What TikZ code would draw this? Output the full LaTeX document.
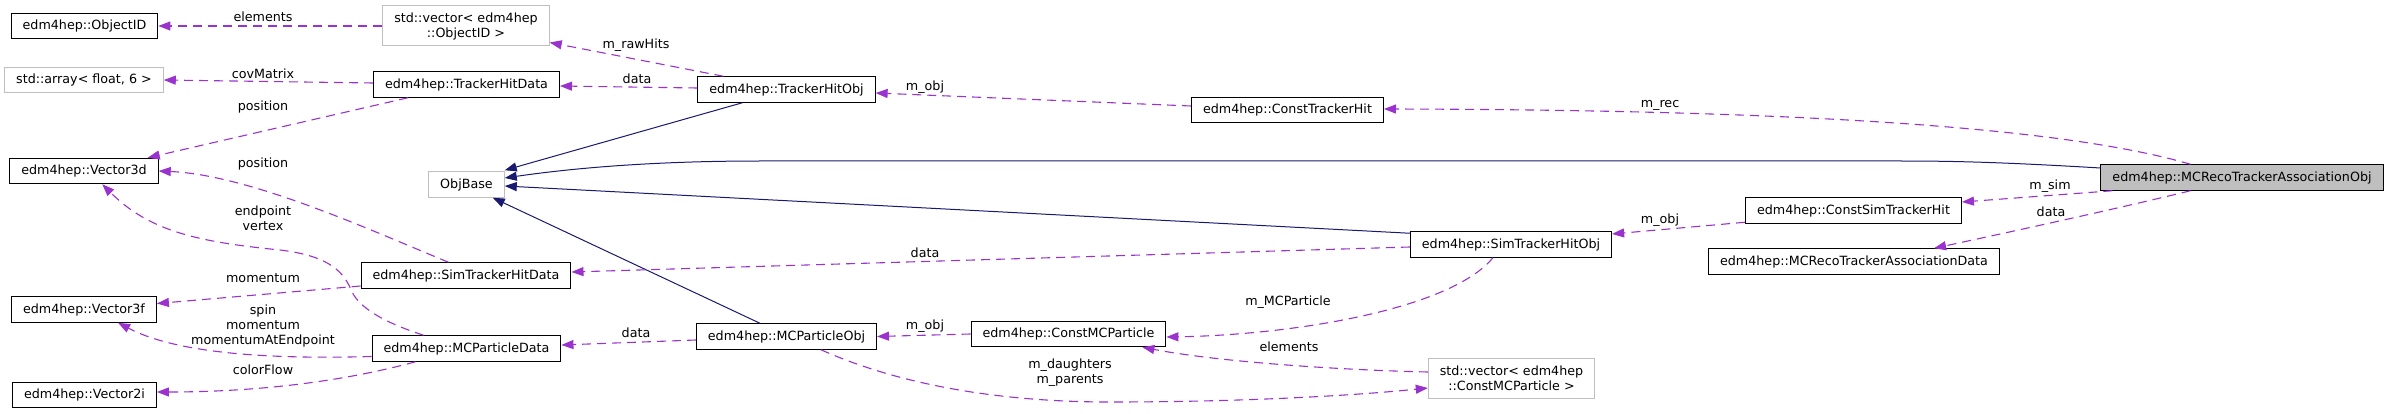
\documentclass[tikz,border=0pt]{standalone}
\usepackage{fontspec}
\setmainfont{DejaVu Sans}
\usepackage{xcolor}
\usepackage{tikz}
\usetikzlibrary{arrows.meta,calc}
\definecolor{dpurple}{HTML}{9A32CD}
\definecolor{dnavy}{HTML}{191970}
\definecolor{dgrey}{HTML}{BFBFBF}
\newcommand{\dgfont}{\fontsize{12.7}{15}\selectfont}
\tikzset{
  >={Triangle[length=12pt,width=9pt]},
  dclass/.style={draw=black, fill=white, line width=1pt, inner xsep=11.5pt,
                 inner ysep=2pt, minimum height=25.5pt, font=\dgfont},
  dext/.style={dclass, draw=dgrey},
  dmain/.style={dclass, fill=dgrey},
  dtwo/.style={align=center, minimum height=40pt},
  dmember/.style={->, dpurple, line width=1.1pt, dash pattern=on 9pt off 6pt},
  dinherit/.style={->, dnavy, line width=1pt},
  dlbl/.style={font=\dgfont, inner sep=0pt, align=center},
}

\begin{document}
\begin{tikzpicture}[x=1pt,y=-1pt]
  \useasboundingbox (0,0) rectangle (2391,414);

  % --- left column ---
  \node[dclass] (objid)    at (84.5,26)  {edm4hep::ObjectID};
  \node[dext]   (floatarr) at (84,80)    {std::array< float, 6 >};
  \node[dclass] (vec3d)    at (84,171)   {edm4hep::Vector3d};
  \node[dclass] (vec3f)    at (84,309.5) {edm4hep::Vector3f};
  \node[dclass] (vec2i)    at (84.5,395) {edm4hep::Vector2i};

  % --- data structs and base ---
  \node[dext, dtwo] (vecoid) at (466,26)    {std::vector< edm4hep\\::ObjectID >};
  \node[dclass] (trkdata)    at (466.5,84.5) {edm4hep::TrackerHitData};
  \node[dext]   (objbase)    at (466.5,184.5) {ObjBase};
  \node[dclass] (simdata)    at (466,275.5)  {edm4hep::SimTrackerHitData};
  \node[dclass] (mcdata)     at (466.5,348.5) {edm4hep::MCParticleData};

  % --- obj classes ---
  \node[dclass] (trkobj)   at (786.5,89.5)  {edm4hep::TrackerHitObj};
  \node[dclass] (mcobj)    at (786.5,336.5) {edm4hep::MCParticleObj};
  \node[dclass] (consttrk) at (1287.5,110)  {edm4hep::ConstTrackerHit};
  \node[dclass] (constmc)  at (1068.5,334)  {edm4hep::ConstMCParticle};
  \node[dclass] (simobj)   at (1511,244.5)  {edm4hep::SimTrackerHitObj};
  \node[dext, dtwo] (vecmc) at (1511.5,378) {std::vector< edm4hep\\::ConstMCParticle >};
  \node[dclass] (constsim)  at (1853.5,210.5) {edm4hep::ConstSimTrackerHit};
  \node[dclass] (assocdata) at (1854,261.5)   {edm4hep::MCRecoTrackerAssociationData};
  \node[dmain]  (assoc)     at (2242,177.5)   {edm4hep::MCRecoTrackerAssociationObj};

  % --- inheritance ---
  \draw[dinherit] ($(trkobj.south west)+(45,0)$) -- ($(objbase.north east)+(0,-1)$);
  \draw[dinherit] ($(assoc.west)+(0,-9.5)$) .. controls (2000,162) and (1950,161) .. (1900,161)
    -- (760,161) .. controls (640,161) and (560,170) .. ($(objbase.east)+(0,-6.5)$);
  \draw[dinherit] ($(simobj.north west)+(0,2)$) -- ($(objbase.east)+(0,1.5)$);
  \draw[dinherit] ($(mcobj.north west)+(64,0)$) -- ($(objbase.south east)+(-12,0)$);

  % --- members ---
  \draw[dmember] (vecoid.west) -- (objid.east);
  \draw[dmember] ($(trkobj.north west)+(26,0)$) -- ($(vecoid.south east)+(0,-4)$);
  \draw[dmember] ($(trkobj.west)+(0,-1.5)$) -- ($(trkdata.east)+(0,1.5)$);
  \draw[dmember] ($(trkdata.west)+(0,-1.5)$) -- (floatarr.east);
  \draw[dmember] ($(trkdata.south west)+(35,0)$) -- ($(vec3d.north east)+(-11,0)$);
  \draw[dmember] ($(simdata.north west)+(88,0)$) .. controls (370,230) and (250,175) .. (vec3d.east);
  \draw[dmember] ($(mcdata.north west)+(52,0)$) .. controls (395,326) and (362,312) .. (352,292)
    .. controls (344,272) and (330,256) .. (280,250)
    .. controls (200,242) and (150,232) .. ($(vec3d.south west)+(93,0)$);
  \draw[dmember] ($(simdata.west)+(0,10.5)$) -- ($(vec3f.east)+(0,-6)$);
  \draw[dmember] ($(mcdata.west)+(0,8)$) .. controls (250,360) and (170,350) .. ($(vec3f.south west)+(107,0)$);
  \draw[dmember] ($(mcdata.south west)+(44,0)$) .. controls (330,385) and (240,392) .. ($(vec2i.east)+(0,-3)$);
  \draw[dmember] ($(simobj.west)+(0,2.5)$) -- ($(simdata.east)+(0,-3.5)$);
  \draw[dmember] ($(mcobj.west)+(0,3.5)$) -- ($(mcdata.east)+(0,-3.5)$);
  \draw[dmember] ($(consttrk.west)+(0,-4)$) -- ($(trkobj.east)+(0,3.5)$);
  \draw[dmember] (constmc.west) -- (mcobj.east);
  \draw[dmember] ($(simobj.south west)+(83,0)$) .. controls (1450,310) and (1290,335) .. ($(constmc.east)+(0,3)$);
  \draw[dmember] ($(vecmc.west)+(0,-6)$) .. controls (1340,370) and (1220,362) .. ($(constmc.south east)+(-24,0)$);
  \draw[dmember] ($(mcobj.south west)+(125,0)$) .. controls (900,385) and (1000,402) .. (1110,402)
    .. controls (1250,402) and (1360,395) .. ($(vecmc.west)+(0,10)$);
  \draw[dmember] ($(constsim.south west)+(0,-1.5)$) -- ($(simobj.east)+(0,-10.5)$);
  \draw[dmember] ($(assoc.north west)+(90,0)$) .. controls (2080,132) and (1850,110) .. ($(consttrk.east)+(0,-1)$);
  \draw[dmember] ($(assoc.south west)+(12,0)$) -- ($(constsim.east)+(0,-8.5)$);
  \draw[dmember] ($(assoc.south west)+(90,0)$) .. controls (2120,208) and (2010,232) .. ($(assocdata.north west)+(226,0)$);

  % --- labels ---
  \node[dlbl] (lelemoid) at (263,17)   {elements};
  \node[dlbl] (lrawhits) at (636,45)   {m\_rawHits};
  \node[dlbl] (ltrkdata) at (637,79)   {data};
  \node[dlbl] (lcov)     at (263,74)   {covMatrix};
  \node[dlbl] (lpostrk)  at (263,107)  {position};
  \node[dlbl] (lpossim)  at (263,164)  {position};
  \node[dlbl] (lendvtx)  at (263,218.5) {endpoint\\vertex};
  \node[dlbl] (lmomsim)  at (263,278)  {momentum};
  \node[dlbl] (lspin)    at (263,326)  {spin\\momentum\\momentumAtEndpoint};
  \node[dlbl] (lcolor)   at (263,370)  {colorFlow};
  \node[dlbl] (lsimdata) at (925,253)  {data};
  \node[dlbl] (lmcdata)  at (636,333)  {data};
  \node[dlbl] (lobjtrk)  at (925,87)   {m\_obj};
  \node[dlbl] (lobjmc)   at (925,326)  {m\_obj};
  \node[dlbl] (lmcpart)  at (1288,302) {m\_MCParticle};
  \node[dlbl] (lelemmc)  at (1289,347) {elements};
  \node[dlbl] (ldaught)  at (1070,373) {m\_daughters\\m\_parents};
  \node[dlbl] (lobjsim)  at (1660,220) {m\_obj};
  \node[dlbl] (lrec)     at (1660,105) {m\_rec};
  \node[dlbl] (lsim)     at (2050,186) {m\_sim};
  \node[dlbl] (lassocd)  at (2051,212) {data};

\end{tikzpicture}
\end{document}
